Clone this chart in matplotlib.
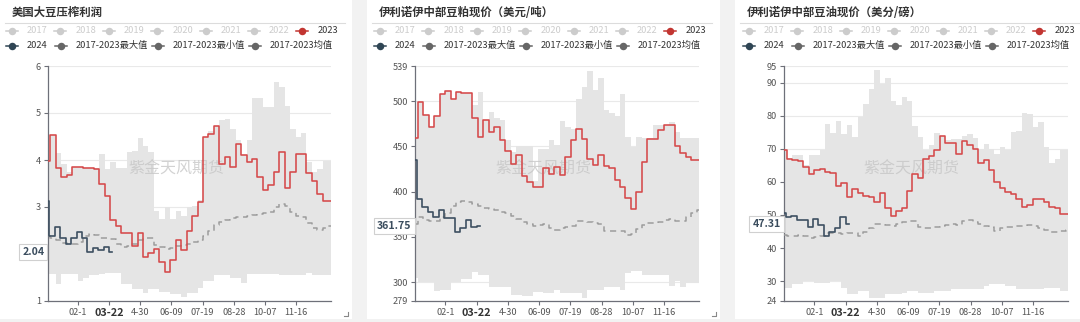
import numpy as np
import matplotlib
matplotlib.use("Agg")
import matplotlib.pyplot as plt
from matplotlib.lines import Line2D
from matplotlib.patches import Rectangle
import matplotlib.transforms as mtransforms

plt.rcParams['font.family'] = ['Noto Sans CJK SC', 'DejaVu Sans']

# ---------------- data ----------------
tick_days = [39, 79, 119, 159, 199, 239, 279, 319]
tick_labels = ['02-1', '03-22', '4-30', '06-09', '07-19', '08-28', '10-07', '11-16']
legend_years = ['2017', '2018', '2019', '2020', '2021', '2022', '2023']
legend_stats = ['2024', '2017-2023最大值', '2017-2023最小值', '2017-2023均值']

# US soybean crush margin
profit_2023 = [3.97, 4.54, 3.83, 3.64, 3.69, 3.86, 3.85, 3.83, 3.84, 3.81,
               3.49, 3.24, 2.72, 2.60, 2.44, 2.44, 2.18, 2.45, 1.93, 2.03,
               2.11, 1.82, 1.62, 1.87, 2.30, 2.08, 2.48, 2.81, 3.10, 4.48,
               4.56, 4.72, 3.92, 4.06, 3.86, 4.35, 4.10, 3.96, 4.03, 3.64,
               3.37, 3.46, 3.74, 4.16, 3.41, 3.74, 4.13, 4.13, 3.73, 3.55,
               3.28, 3.12, 3.12]
profit_2024 = [3.12, 2.39, 2.57, 2.35, 2.22, 2.35, 2.46, 2.35, 2.05, 2.12,
               2.08, 2.15, 2.04]
profit_max = [4.0, 4.54, 4.15, 3.92, 3.75, 3.86, 3.85, 3.84, 3.84, 3.84,
              4.13, 3.8, 3.95, 3.82, 3.82, 4.18, 4.2, 4.47, 4.3, 4.18,
              2.92, 2.75, 3.0, 2.75, 2.92, 2.8, 2.99, 3.03, 3.14, 4.48,
              4.62, 4.72, 4.86, 4.88, 4.67, 4.42, 4.10, 4.42, 5.32, 5.32,
              5.13, 5.13, 5.66, 5.55, 5.14, 4.67, 4.49, 4.58, 3.96, 3.74,
              3.81, 3.98, 3.98]
profit_min = [1.57, 1.57, 1.36, 1.57, 1.57, 1.57, 1.43, 1.5, 1.56, 1.56,
              1.58, 1.6, 1.6, 1.6, 1.36, 1.36, 1.25, 1.25, 1.18, 1.25,
              1.25, 1.19, 1.19, 1.14, 1.14, 1.09, 1.18, 1.18, 1.27, 1.43,
              1.43, 1.56, 1.56, 1.56, 1.5, 1.5, 1.39, 1.57, 1.57, 1.57,
              1.57, 1.57, 1.57, 1.56, 1.56, 1.56, 1.56, 1.56, 1.6, 1.56,
              1.56, 1.56, 1.56]
profit_avg = [2.39, 2.35, 2.3, 2.24, 2.21, 2.22, 2.25, 2.38, 2.42, 2.4,
              2.35, 2.35, 2.32, 2.22, 2.14, 2.16, 2.22, 2.3, 2.35, 2.33,
              2.2, 2.14, 2.1, 2.12, 2.18, 2.2, 2.22, 2.26, 2.3, 2.38,
              2.5, 2.62, 2.68, 2.72, 2.76, 2.78, 2.78, 2.8, 2.82, 2.86,
              2.88, 2.9, 3.0, 3.07, 3.03, 2.9, 2.8, 2.78, 2.65, 2.55,
              2.52, 2.55, 2.6]

# Central Illinois soybean meal spot (USD/t)
meal_2023 = [458.8, 499.2, 484.5, 471.6, 483.8, 508.5, 511.4, 503.0, 510.0, 508.8,
             509.2, 482.0, 460.6, 479.0, 466.0, 471.6, 457.0, 444.8, 431.0, 440.0,
             417.5, 410.9, 405.3, 405.3, 425.6, 419.3, 427.4, 418.2, 438.5, 457.6,
             469.4, 458.0, 436.6, 429.3, 440.0, 428.9, 425.6, 412.7, 404.6, 392.5,
             380.3, 399.8, 433.0, 458.0, 458.7, 468.7, 473.5, 473.5, 450.3, 442.9,
             438.5, 434.8, 434.8]
meal_2024 = [434.8, 391.7, 382.5, 377.0, 372.2, 379.6, 371.0, 370.3, 355.6, 359.3,
             368.5, 360.5, 361.75]
meal_max = [458.8, 499.2, 484.5, 471.6, 483.8, 508.5, 511.4, 503.0, 510.0, 508.8,
            509.2, 496.3, 510.3, 479.0, 488.2, 482.0, 479.0, 457.0, 444.0, 450.6,
            450.6, 450.6, 412.0, 447.7, 447.7, 457.0, 451.5, 478.5, 471.9, 469.8,
            503.0, 515.3, 533.3, 512.4, 526.0, 490.3, 486.5, 483.6, 507.6, 460.8,
            449.8, 460.8, 458.8, 458.8, 473.5, 473.5, 473.5, 477.0, 466.0, 458.8,
            458.8, 458.8, 458.8]
meal_min = [304.0, 300.4, 300.4, 300.4, 290.4, 291.2, 291.2, 300.4, 300.4, 303.0,
            303.0, 311.4, 307.7, 307.7, 294.1, 294.1, 294.1, 294.1, 285.6, 285.6,
            284.5, 284.5, 289.3, 289.3, 288.2, 288.2, 291.2, 287.5, 287.5, 287.5,
            287.5, 282.0, 291.2, 291.2, 291.2, 294.1, 294.1, 294.1, 291.2, 309.6,
            312.5, 312.5, 307.7, 307.7, 307.7, 307.7, 307.7, 295.6, 301.5, 294.8,
            299.3, 299.3, 299.3]
meal_avg = [364, 372, 369, 368, 368, 372, 376, 384, 389, 390,
            388, 386, 384, 381.5, 381, 380, 378, 376, 373, 370,
            366, 364, 362, 363, 364, 360, 358, 360, 361, 362,
            368, 368, 366, 365, 364, 357, 356, 357, 357, 352,
            353, 359, 363, 365, 365, 366, 369, 370, 368, 367,
            372, 376, 380]

# Central Illinois soybean oil spot (cents/lb)
oil_2023 = [69.7, 67.0, 66.7, 66.3, 64.5, 62.3, 63.5, 64.0, 63.0, 62.7,
            58.7, 59.7, 55.3, 57.7, 56.7, 55.8, 55.5, 53.8, 56.7, 52.0,
            49.7, 51.3, 52.0, 57.3, 62.3, 61.3, 67.0, 67.7, 69.7, 74.0,
            71.7, 71.7, 68.3, 72.3, 71.0, 70.0, 65.8, 66.5, 63.7, 60.0,
            58.0, 57.0, 56.3, 54.8, 52.3, 53.0, 54.7, 54.7, 54.0, 52.5,
            52.0, 50.3, 50.3]
oil_2024 = [50.5, 49.3, 49.8, 48.5, 48.5, 46.3, 48.7, 47.0, 43.7, 44.7,
            46.0, 49.3, 47.31]
oil_max = [69.7, 67.2, 68.0, 68.0, 65.2, 68.2, 68.0, 69.5, 77.5, 74.8,
           78.5, 74.5, 77.2, 73.7, 79.5, 83.5, 88.0, 93.8, 89.5, 91.5,
           84.5, 83.2, 85.5, 84.5, 77.0, 73.5, 69.5, 71.0, 74.8, 74.0,
           72.5, 73.0, 73.0, 74.0, 74.5, 73.2, 69.8, 71.5, 70.0, 68.5,
           70.5, 69.5, 75.0, 75.5, 80.8, 80.5, 76.5, 78.2, 70.5, 65.8,
           67.0, 69.5, 69.5]
oil_min = [28, 28, 29, 29, 30, 30, 29.5, 29.5, 29.5, 30,
           30, 28, 26, 26, 27, 27, 25, 25, 25, 26,
           26, 26, 26.5, 27, 27, 26.5, 26.5, 26.5, 27, 27,
           27, 27.5, 27.5, 27.5, 27.5, 27.5, 27.5, 28.5, 29, 29,
           29, 28.5, 28.5, 27.5, 27.5, 27.5, 27.5, 27.5, 28, 28,
           28, 27, 27]
oil_avg = [44, 43.7, 43.6, 44, 43.5, 43, 43.3, 43.6, 44.5, 44.5,
           44.4, 44.3, 44.4, 44.5, 43.6, 44.8, 46, 47.2, 47.4, 47,
           46.7, 47.2, 47.8, 48.3, 48.2, 46.5, 46.1, 46, 46.5, 46.8,
           47, 47.3, 47.1, 48.2, 48.4, 48, 47.3, 46.8, 46.5, 45,
           46.2, 46.3, 46.5, 46.7, 46.8, 47, 46.6, 46.2, 45.5, 44.7,
           44.7, 45, 45.6]

panels = [
    dict(title='美国大豆压榨利润', card=(0, 352),
         axes_px=(47.7, 331.0), ylim=(1, 6), yticks=[1, 2, 3, 4, 5, 6],
         cur=profit_2023, new=profit_2024, hi=profit_max, lo=profit_min, avg=profit_avg,
         legend_x=27),
    dict(title='伊利诺伊中部豆粕现价（美元/吨）', card=(367, 720),
         axes_px=(415.0, 699.3), ylim=(279, 539), yticks=[279, 300, 350, 400, 450, 500, 539],
         cur=meal_2023, new=meal_2024, hi=meal_max, lo=meal_min, avg=meal_avg,
         legend_x=395),
    dict(title='伊利诺伊中部豆油现价（美分/磅）', card=(735, 1080),
         axes_px=(784.0, 1068.3), ylim=(24, 95), yticks=[24, 30, 40, 50, 60, 70, 80, 90, 95],
         cur=oil_2023, new=oil_2024, hi=oil_max, lo=oil_min, avg=oil_avg,
         legend_x=764),
]

# ---------------- styling ----------------
W, H = 1080, 322
C_RED = '#d5494a'
C_RED_ICON = '#c23531'
C_NAVY = '#3e5061'
C_NAVY_ICON = '#2f4554'
C_BAND = '#e5e5e5'
C_AVG = '#9c9c9c'
C_STAT = '#666666'
C_OFF = '#cccccc'
C_TEXT = '#333333'
C_AXIS = '#6e7079'

fig = plt.figure(figsize=(W / 100, H / 100), dpi=100)
fig.patch.set_facecolor('#f2f2f2')


def fx(x):
    return x / W


def fy(y):
    return 1 - y / H


def legend_item(xt, y, label, icon_color, text_color):
    fig.add_artist(Line2D([fx(xt - 21), fx(xt - 9)], [fy(y), fy(y)],
                          transform=fig.transFigure, color=icon_color, lw=1.1))
    fig.add_artist(Line2D([fx(xt - 15)], [fy(y)], transform=fig.transFigure,
                          marker='o', ms=5.4, color=icon_color, mew=0, ls='none'))
    fig.text(fx(xt), fy(y), label, fontsize=6.7, color=text_color,
             ha='left', va='center')


AX_TOP, AX_BOT = 66.0, 301.0
weeks = 7 * np.arange(53)

for p in panels:
    cx0, cx1 = p['card']
    fig.add_artist(Rectangle((fx(cx0), fy(319)), fx(cx1 - cx0), 319 / H,
                             transform=fig.transFigure, facecolor='white',
                             edgecolor='none', zorder=-5))
    # title and separator
    fig.text(fx(cx0 + 11.5), fy(12.5), p['title'], fontsize=8.2, fontweight='bold',
             color=C_TEXT, ha='left', va='center')
    fig.add_artist(Line2D([fx(cx0 + 5), fx(min(cx0 + 345, W))], [fy(23.3), fy(23.3)],
                          transform=fig.transFigure, color='#dcdcdc', lw=0.8))
    # legend
    lx = p['legend_x']
    for k, lab in enumerate(legend_years):
        on = lab == '2023'
        legend_item(lx + 48.4 * k, 30.5, lab,
                    C_RED_ICON if on else C_OFF, C_TEXT if on else C_OFF)
    for off, lab in zip([0, 49, 145.7, 243], legend_stats):
        legend_item(lx + off, 45.8, lab,
                    C_NAVY_ICON if lab == '2024' else C_STAT, C_TEXT)

    ax0, ax1 = p['axes_px']
    ax = fig.add_axes([fx(ax0), fy(AX_BOT), fx(ax1 - ax0), (AX_BOT - AX_TOP) / H])
    ax.set_facecolor('none')

    ax.fill_between(weeks, p['lo'], p['hi'], step='mid', color=C_BAND, lw=0, zorder=1)
    ax.plot(weeks, p['avg'], drawstyle='steps-mid', color=C_AVG, lw=1.1,
            ls=(0, (4, 3)), zorder=3)
    ax.plot(weeks, p['cur'], drawstyle='steps-mid', color=C_RED, lw=1.15, zorder=4)
    new_x = 7 * np.arange(len(p['new'])) - 1.4
    ax.plot(new_x, p['new'], drawstyle='steps-mid', color=C_NAVY, lw=1.2, zorder=5)

    ax.set_xlim(0, 364)
    ax.set_ylim(*p['ylim'])

    # y labels hidden behind the latest-value tag are left blank
    last = p['new'][-1]
    px_per_unit = (AX_BOT - AX_TOP) / (p['ylim'][1] - p['ylim'][0])
    ax.set_yticks(p['yticks'])
    ax.set_yticklabels(['' if abs(v - last) * px_per_unit < 7 else str(v)
                        for v in p['yticks']])
    ax.set_xticks(tick_days)
    ax.set_xticklabels(tick_labels)
    for t in ax.get_xticklabels():
        if t.get_text() == '03-22':
            t.set_fontweight('bold')
            t.set_fontsize(7.8)
            t.set_color(C_TEXT)
        else:
            t.set_fontsize(6.6)
            t.set_color('#555555')
    for t in ax.get_yticklabels():
        t.set_fontsize(6.6)
        t.set_color('#555555')
    ax.tick_params(axis='both', direction='out', length=3, width=0.8,
                   color=C_AXIS, pad=2)
    ax.yaxis.grid(True, color='#e9e9e9', lw=0.8)
    ax.set_axisbelow(True)
    for s in ['top', 'right']:
        ax.spines[s].set_visible(False)
    for s in ['left', 'bottom']:
        ax.spines[s].set_color(C_AXIS)
        ax.spines[s].set_linewidth(0.9)

    # watermark
    wx = (cx0 + cx1) / 2 if cx1 < W else cx0 + 176.5
    ax.text(fx(wx), fy(169), '紫金天风期货',
            transform=fig.transFigure, fontsize=11.5, color='#c4c4c4', alpha=0.75,
            ha='center', va='center', zorder=2)

    # latest value tag on the y axis
    trans = mtransforms.blended_transform_factory(ax.transAxes, ax.transData)
    ax.text(-0.012, last, '{:.2f}'.format(last), transform=trans,
            ha='right', va='center', fontsize=7.6, fontweight='bold', color='#3b4d5e',
            clip_on=False, zorder=10,
            bbox=dict(boxstyle='square,pad=0.28', fc='white', ec='#d0d0d0', lw=0.8))

    # resize grip in the card corner
    if cx1 < W:
        gx, gy = cx1 - 4, 316
        fig.add_artist(Line2D([fx(gx - 4), fx(gx), fx(gx)], [fy(gy), fy(gy), fy(gy - 4)],
                              transform=fig.transFigure, color='#888888', lw=0.8))

fig.savefig('out.png', dpi=100, facecolor=fig.get_facecolor())
